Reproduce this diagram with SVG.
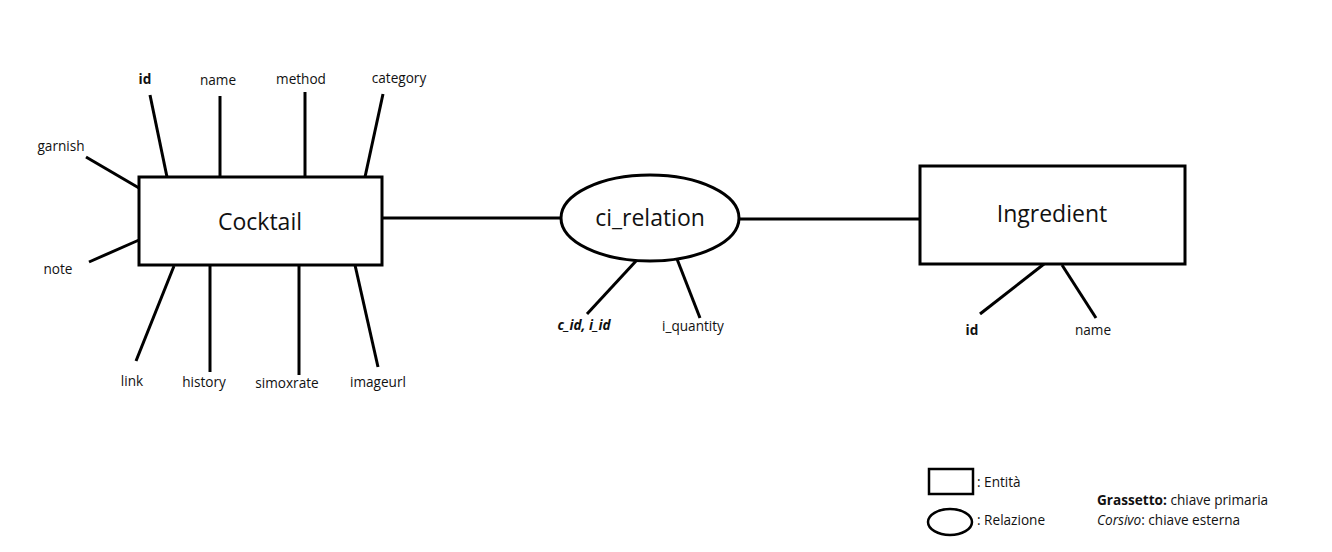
<svg xmlns="http://www.w3.org/2000/svg" width="1332" height="552" viewBox="0 0 1332 552">
<style>
.shape{fill:#fff;stroke:#000;stroke-width:3}
.ln{stroke:#000;stroke-width:3;fill:none}
.lt{stroke:#000;stroke-width:2.5;fill:none}
text{font-family:"Open Sans","Noto Sans",sans-serif;fill:#111}
.a{font-size:13.6px;text-anchor:middle}
.big{font-size:23px;text-anchor:middle}
.lg{font-size:13.6px}
.b{font-weight:bold}
.bi{font-weight:bold;font-style:italic}
</style>
<rect width="1332" height="552" fill="#fff"/>
<g id="connectors">
<line class="ln" x1="382" y1="218" x2="561" y2="218"/>
<line class="ln" x1="739" y1="219" x2="920" y2="219"/>
<line class="ln" x1="150" y1="95" x2="167" y2="177"/>
<line class="ln" x1="220" y1="96" x2="220" y2="177"/>
<line class="ln" x1="305" y1="92" x2="305" y2="177"/>
<line class="ln" x1="383" y1="94" x2="365" y2="177"/>
<line class="ln" x1="86" y1="157" x2="139" y2="188"/>
<line class="ln" x1="89" y1="262" x2="139" y2="240"/>
<line class="ln" x1="136" y1="361" x2="174" y2="266"/>
<line class="ln" x1="210" y1="263" x2="210" y2="372"/>
<line class="ln" x1="299" y1="265" x2="299" y2="375"/>
<line class="ln" x1="355" y1="265" x2="378" y2="367"/>
<line class="ln" x1="636" y1="261" x2="587" y2="314"/>
<line class="ln" x1="677" y1="259" x2="700" y2="318"/>
<line class="ln" x1="1044" y1="264" x2="980" y2="314"/>
<line class="ln" x1="1062" y1="265" x2="1096" y2="318"/>
</g>
<g id="cocktail">
<rect class="shape" x="139" y="177" width="243" height="88"/>
<text class="big" x="260" y="230">Cocktail</text>
</g>
<g id="ci_relation">
<ellipse class="shape" cx="650" cy="218" rx="89" ry="43"/>
<text class="big" x="650" y="226">ci_relation</text>
</g>
<g id="ingredient">
<rect class="shape" x="920" y="166" width="265" height="98"/>
<text class="big" x="1052" y="222">Ingredient</text>
</g>
<g id="attr-cocktail-id"><text class="a b" x="145" y="84">id</text></g>
<g id="attr-cocktail-name"><text class="a" x="218" y="85">name</text></g>
<g id="attr-cocktail-method"><text class="a" x="301" y="84">method</text></g>
<g id="attr-cocktail-category"><text class="a" x="399" y="83">category</text></g>
<g id="attr-cocktail-garnish"><text class="a" x="61" y="151">garnish</text></g>
<g id="attr-cocktail-note"><text class="a" x="58" y="274">note</text></g>
<g id="attr-cocktail-link"><text class="a" x="132" y="386">link</text></g>
<g id="attr-cocktail-history"><text class="a" x="204" y="387">history</text></g>
<g id="attr-cocktail-simoxrate"><text class="a" x="287" y="388">simoxrate</text></g>
<g id="attr-cocktail-imageurl"><text class="a" x="378" y="387">imageurl</text></g>
<g id="attr-rel-keys"><text class="a bi" x="584" y="330">c_id, i_id</text></g>
<g id="attr-rel-quantity"><text class="a" x="693" y="331">i_quantity</text></g>
<g id="attr-ingredient-id"><text class="a b" x="972" y="335">id</text></g>
<g id="attr-ingredient-name"><text class="a" x="1093" y="335">name</text></g>
<g id="legend">
<rect class="lt" x="929" y="469" width="44" height="25"/>
<text class="lg" x="977" y="487">: Entità</text>
<ellipse class="lt" cx="950" cy="522" rx="22" ry="13"/>
<text class="lg" x="977" y="525">: Relazione</text>
<text class="lg" x="1097" y="505"><tspan class="b">Grassetto:</tspan> chiave primaria</text>
<text class="lg" x="1097" y="525"><tspan font-style="italic">Corsivo</tspan>: chiave esterna</text>
</g>
</svg>
